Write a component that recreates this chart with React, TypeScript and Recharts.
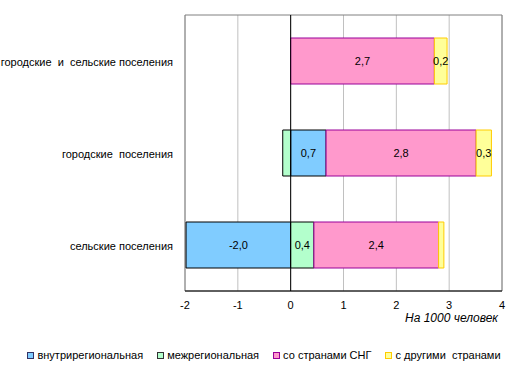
import React from 'react';
import {
  BarChart, Bar, XAxis, YAxis, CartesianGrid, ReferenceLine, ReferenceArea, Legend, LabelList,
} from 'recharts';

const categories = [
  'городские  и  сельские поселения',
  'городские  поселения',
  'сельские поселения',
];
const intraRegional = [null, 0.67, -1.98];
const interRegional = [null, -0.15, 0.44];
const withCIS = [2.72, 2.84, 2.36];
const withOther = [0.24, 0.29, 0.1];
const xTicks = [-2, -1, 0, 1, 2, 3, 4];

const seriesInfo = [
  { key: 'intra', name: 'внутрирегиональная', fill: '#80CCFF', stroke: '#000000', legendStroke: '#333366' },
  { key: 'inter', name: 'межрегиональная', fill: '#B3FFCC', stroke: '#000000', legendStroke: '#333333' },
  { key: 'cis', name: 'со странами СНГ', fill: '#FF99CC', stroke: '#990099', legendStroke: '#990099' },
  { key: 'other', name: 'с другими  странами', fill: '#FFFF99', stroke: '#FFCC00', legendStroke: '#FFCC00' },
];

const data = categories.map((c, i) => ({
  category: c,
  intra: intraRegional[i],
  inter: interRegional[i],
  cis: withCIS[i],
  other: withOther[i],
}));

const FONT = 'Liberation Sans, Arial, sans-serif';

const fmt = (v: number) => v.toFixed(1).replace('.', ',');

const BarLabel = (props: any) => {
  const { x, y, width, height, value } = props;
  if (value == null || Math.abs(width) < 10) return null;
  return (
    <text
      x={x + width / 2}
      y={y + height / 2}
      dy={4}
      textAnchor="middle"
      fontSize={11}
      fontFamily={FONT}
      fill="#000"
    >
      {fmt(value)}
    </text>
  );
};

const CategoryTick = (props: any) => {
  const { x, y, payload } = props;
  return (
    <text
      x={x}
      y={y}
      dy={5}
      textAnchor="end"
      fontSize={11}
      fontFamily={FONT}
      fill="#000"
      style={{ whiteSpace: 'pre' }}
    >
      {payload.value}
    </text>
  );
};

const AxisTitle = (props: any) => {
  const vb = props.viewBox || {};
  return (
    <text
      x={vb.x + vb.width - 4}
      y={vb.y + 31}
      textAnchor="end"
      fontSize={12}
      fontStyle="italic"
      fontFamily={FONT}
      fill="#000"
    >
      На 1000 человек
    </text>
  );
};

const LegendContent = () => (
  <div
    style={{
      display: 'flex',
      justifyContent: 'center',
      alignItems: 'center',
      fontFamily: FONT,
      fontSize: 11,
      color: '#000',
      paddingTop: 22,
      marginLeft: 40,
    }}
  >
    {seriesInfo.map((s) => (
      <div key={s.key} style={{ display: 'flex', alignItems: 'center', marginRight: 14 }}>
        <span
          style={{
            display: 'inline-block',
            width: 5,
            height: 5,
            background: s.fill,
            border: `1px solid ${s.legendStroke}`,
            marginRight: 3,
          }}
        />
        <span style={{ whiteSpace: 'pre' }}>{s.name}</span>
      </div>
    ))}
  </div>
);

export default function App() {
  return (
    <div style={{ position: 'absolute', left: 0, top: 0, background: '#fff' }}>
      <BarChart
        width={514}
        height={371}
        data={data}
        layout="vertical"
        stackOffset="sign"
        barCategoryGap="25%"
        margin={{ top: 15, right: 12, bottom: 0, left: 0 }}
      >
        <CartesianGrid horizontal={false} stroke="#C0C0C0" />
        <ReferenceArea x1={-2} x2={4} fill="none" stroke="#808080" strokeWidth={1} ifOverflow="visible" />
        <XAxis
          type="number"
          domain={[-2, 4]}
          ticks={xTicks}
          interval={0}
          height={36}
          axisLine={{ stroke: '#000' }}
          tickLine={false}
          tickMargin={4}
          tick={{ fontSize: 11, fontFamily: FONT, fill: '#000' }}
          label={<AxisTitle />}
        />
        <YAxis
          type="category"
          dataKey="category"
          width={185}
          axisLine={false}
          tickLine={false}
          tickSize={0}
          tickMargin={12}
          tick={<CategoryTick />}
        />
        {seriesInfo.map((s) => (
          <Bar
            key={s.key}
            dataKey={s.key}
            name={s.name}
            stackId="a"
            fill={s.fill}
            stroke={s.stroke}
            strokeWidth={1}
            isAnimationActive={false}
          >
            <LabelList dataKey={s.key} content={<BarLabel />} />
          </Bar>
        ))}
        <ReferenceLine x={0} stroke="#000" strokeWidth={1} />
        <Legend verticalAlign="bottom" height={44} content={<LegendContent />} />
      </BarChart>
    </div>
  );
}
